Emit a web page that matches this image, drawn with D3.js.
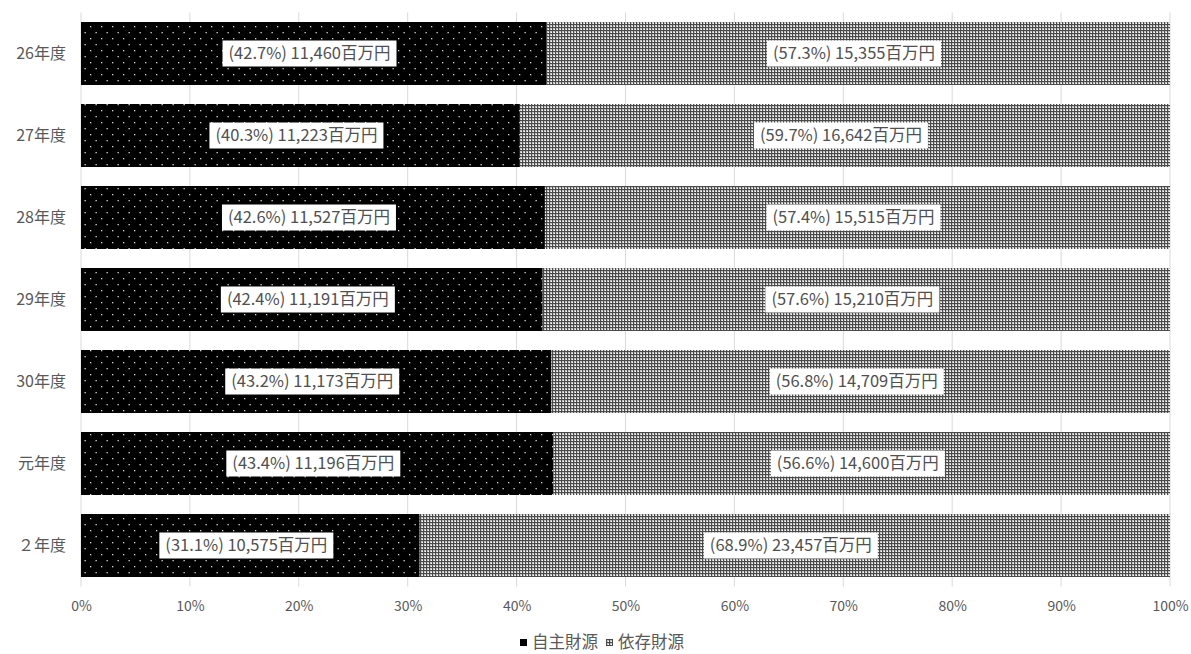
<!DOCTYPE html>
<html>
<head>
<meta charset="utf-8">
<script src="https://cdn.jsdelivr.net/npm/d3@7"></script>
<style>
  body { margin: 0; background: #fff; }
  svg { display: block; }
  text { font-family: "Noto Sans CJK JP", "Noto Sans", sans-serif; }
</style>
</head>
<body>
<svg id="chart" width="1191" height="654"></svg>
<script>
const categories = ["26年度", "27年度", "28年度", "29年度", "30年度", "元年度", "２年度"];
const ownPct = [42.7, 40.3, 42.6, 42.4, 43.2, 43.4, 31.1];
const depPct = [57.3, 59.7, 57.4, 57.6, 56.8, 56.6, 68.9];
const ownVal = ["11,460", "11,223", "11,527", "11,191", "11,173", "11,196", "10,575"];
const depVal = ["15,355", "16,642", "15,515", "15,210", "14,709", "14,600", "23,457"];
const seriesNames = ["自主財源", "依存財源"];
const tickValues = [0, 0.1, 0.2, 0.3, 0.4, 0.5, 0.6, 0.7, 0.8, 0.9, 1.0];

const svg = d3.select("#chart");
const defs = svg.append("defs");

// dotted pattern (own revenue)
const p1 = defs.append("pattern").attr("id", "dots").attr("patternUnits", "userSpaceOnUse")
  .attr("width", 11).attr("height", 12);
p1.append("rect").attr("width", 11).attr("height", 12).attr("fill", "#000");
p1.append("rect").attr("x", 2).attr("y", 2).attr("width", 1.3).attr("height", 1.3).attr("fill", "#d8d8d8");
p1.append("rect").attr("x", 7.5).attr("y", 8).attr("width", 1.3).attr("height", 1.3).attr("fill", "#d8d8d8");

// grid/checker pattern (dependent revenue)
const p2 = defs.append("pattern").attr("id", "checks").attr("patternUnits", "userSpaceOnUse")
  .attr("width", 3).attr("height", 3);
p2.append("rect").attr("width", 3).attr("height", 3).attr("fill", "#c4c4c4");
p2.append("rect").attr("x", 0).attr("y", 0).attr("width", 3).attr("height", 1).attr("fill", "#4a4a4a");
p2.append("rect").attr("x", 0).attr("y", 0).attr("width", 1).attr("height", 3).attr("fill", "#4a4a4a");
p2.append("rect").attr("x", 2).attr("y", 2).attr("width", 1).attr("height", 1).attr("fill", "#fff");

const fills = ["url(#dots)", "url(#checks)"];

const x = d3.scaleLinear().domain([0, 1]).range([81, 1170]);
const y = d3.scaleBand().domain(categories).range([12.5, 586.5]).paddingInner(0.232).paddingOuter(0.116);

// gridlines
svg.append("g").selectAll("line").data(tickValues).join("line")
  .attr("x1", d => x(d)).attr("x2", d => x(d))
  .attr("y1", 12.5).attr("y2", 586.5)
  .attr("stroke", "#d9d9d9").attr("stroke-width", 1);

// bottom axis labels
const axis = d3.axisBottom(x).tickValues(tickValues).tickFormat(d3.format(".0%")).tickSize(0).tickPadding(11);
const gx = svg.append("g").attr("transform", "translate(0,590)").call(axis);
gx.select(".domain").remove();
gx.selectAll("text").attr("font-size", 14).attr("fill", "#595959")
  .style("font-family", "'Noto Sans CJK JP', sans-serif");

// left category labels
const ay = d3.axisLeft(y).tickSize(0).tickPadding(0);
const gy = svg.append("g").attr("transform", "translate(66,0)").call(ay);
gy.select(".domain").remove();
gy.selectAll("text").attr("font-size", 16).attr("fill", "#595959")
  .style("font-family", "'Noto Sans CJK JP', sans-serif");

const rows = categories.map((c, i) => ({
  cat: c,
  segs: [
    { s: 0, x0: 0, x1: ownPct[i] / 100, label: `(${ownPct[i].toFixed(1)}%) ${ownVal[i]}百万円` },
    { s: 1, x0: ownPct[i] / 100, x1: 1, label: `(${depPct[i].toFixed(1)}%) ${depVal[i]}百万円` }
  ]
}));

const rowG = svg.append("g").selectAll("g").data(rows).join("g");
rowG.selectAll("rect.bar").data(d => d.segs.map(s => ({ ...s, cat: d.cat }))).join("rect")
  .attr("class", "bar")
  .attr("x", d => x(d.x0)).attr("width", d => x(d.x1) - x(d.x0))
  .attr("y", d => y(d.cat)).attr("height", y.bandwidth())
  .attr("fill", d => fills[d.s]);

// labels with white boxes
const labG = svg.append("g");
rows.forEach(r => {
  r.segs.forEach(s => {
    const cx = (x(s.x0) + x(s.x1)) / 2 - 4;
    const cy = y(r.cat) + y.bandwidth() / 2;
    const g = labG.append("g");
    const t = g.append("text").attr("x", cx).attr("y", cy).attr("dy", "0.35em")
      .attr("text-anchor", "middle").attr("font-size", 16.5).attr("fill", "#505050")
      .text(s.label);
    const bb = t.node().getBBox();
    g.insert("rect", "text").attr("x", bb.x - 6).attr("y", cy - 13).attr("width", bb.width + 12).attr("height", 26)
      .attr("fill", "#fff");
  });
});

// legend
const leg = svg.append("g");
const legItems = [{ name: seriesNames[0], fill: "#000", x: 520 }, { name: seriesNames[1], fill: "url(#checks)", x: 606 }];
legItems.forEach(it => {
  leg.append("rect").attr("x", it.x).attr("y", 639).attr("width", 7).attr("height", 7).attr("fill", it.fill);
  leg.append("text").attr("x", it.x + 12).attr("y", 642).attr("dy", "0.35em").attr("font-size", 16.5)
    .attr("fill", "#595959").text(it.name);
});
</script>
</body>
</html>
